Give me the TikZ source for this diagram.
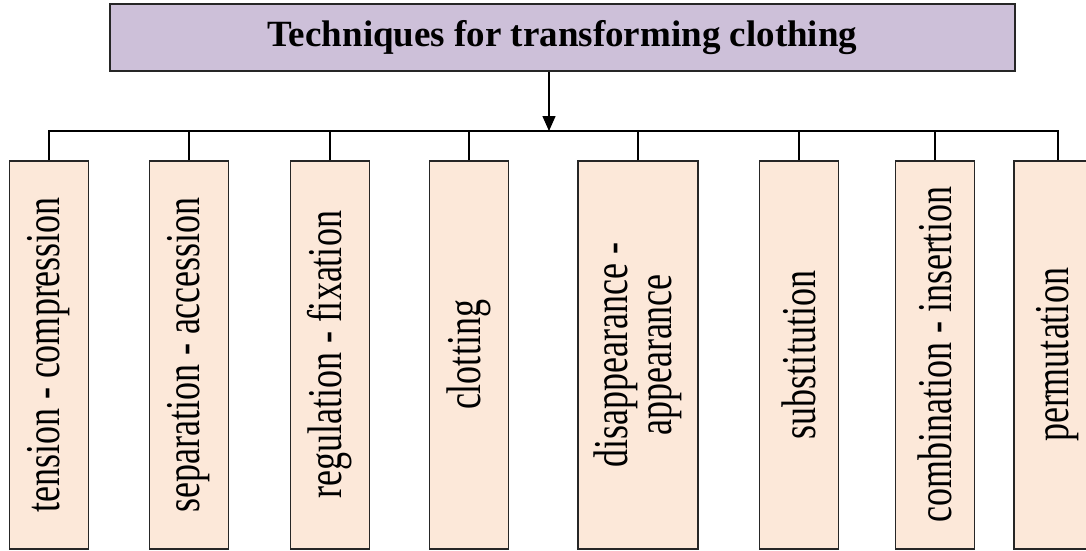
\documentclass[tikz,border=0pt]{standalone}
\usepackage{fontspec}
\setmainfont{Liberation Serif}
\usetikzlibrary{arrows.meta}
\definecolor{titlefill}{HTML}{CDC0D9}
\definecolor{techfill}{HTML}{FCE8D9}
\begin{document}
\begin{tikzpicture}[x=1pt,y=-1pt,line width=1.4pt,
    every node/.style={draw=black!85, align=center, inner sep=0pt},
    titlebox/.style={fill=titlefill, minimum width=905pt, minimum height=67pt,
      font=\fontsize{37}{40}\selectfont\bfseries},
    techbox/.style={fill=techfill, rotate=90, yscale=1.35, minimum width=388pt,
      minimum height=58.5pt, font=\fontsize{36}{33}\selectfont}]
  \useasboundingbox (0,0) rectangle (1086,551);
  \clip (0,0) rectangle (1086,551);
  \node[titlebox] (title) at (562.5,37.5) {Techniques for transforming clothing};
  \node[techbox] (tension) at (49,355) {tension - compression};
  \node[techbox] (separation) at (189,355) {separation - accession};
  \node[techbox] (regulation) at (330,355) {regulation - fixation};
  \node[techbox] (clotting) at (469,355) {clotting};
  \node[techbox,minimum height=88.9pt] (disappearance) at (638,355) {disappearance -\\appearance};
  \node[techbox] (substitution) at (799,355) {substitution};
  \node[techbox] (combination) at (935,355) {combination - insertion};
  \node[techbox,minimum height=65.2pt] (permutation) at (1058,355) {permutation};
  \coordinate (bus) at (0,131);
  \draw[-{Triangle[length=15pt,width=13pt]}] ([xshift=-13.5pt]title.south) -- ([xshift=-13.5pt]title.south |- bus);
  \draw (tension.east) -- (tension.east |- bus) -- (permutation.east |- bus) -- (permutation.east);
  \draw (separation.east) -- (separation.east |- bus);
  \draw (regulation.east) -- (regulation.east |- bus);
  \draw (clotting.east) -- (clotting.east |- bus);
  \draw (disappearance.east) -- (disappearance.east |- bus);
  \draw (substitution.east) -- (substitution.east |- bus);
  \draw (combination.east) -- (combination.east |- bus);
\end{tikzpicture}
\end{document}
